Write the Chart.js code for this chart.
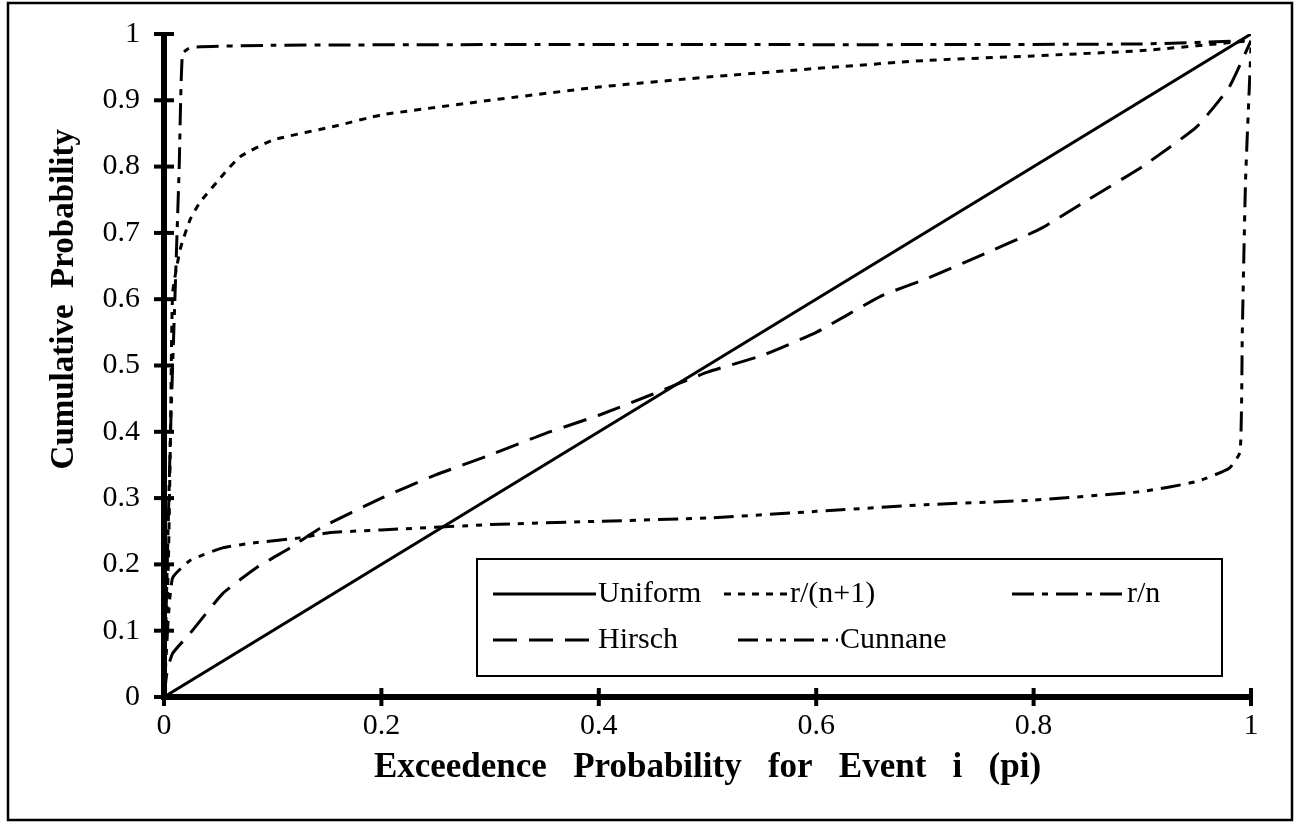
<!DOCTYPE html>
<html>
<head>
<meta charset="utf-8">
<script src="https://cdn.jsdelivr.net/npm/chart.js"></script>
<style>
  html, body { margin: 0; padding: 0; background: #fff; }
  #wrap { width: 1300px; height: 827px; position: relative; }
</style>
</head>
<body>
<div id="wrap"><canvas id="chart" width="1300" height="827"></canvas></div>
<script>
// axis ticks
const xTickValues = [0, 0.2, 0.4, 0.6, 0.8, 1];
const yTickValues = [0, 0.1, 0.2, 0.3, 0.4, 0.5, 0.6, 0.7, 0.8, 0.9, 1];

const seriesNames = ["Uniform", "r/(n+1)", "r/n", "Hirsch", "Cunnane"];

// Uniform
const uniformX = [0, 1];
const uniformY = [0, 1];

// r/(n+1)
const weibullX = [0, 0.004, 0.006, 0.008, 0.015, 0.024, 0.033, 0.054, 0.07, 0.1, 0.16, 0.2, 0.3, 0.4, 0.5, 0.6, 0.7, 0.8, 0.9, 1];
const weibullY = [0, 0.2, 0.4, 0.61, 0.676, 0.72, 0.746, 0.787, 0.815, 0.84, 0.862, 0.878, 0.9, 0.92, 0.935, 0.948, 0.96, 0.967, 0.975, 0.99];

// r/n
const rnX = [0, 0.003, 0.006, 0.01, 0.014, 0.017, 0.025, 0.1, 0.3, 0.5, 0.7, 0.9, 1];
const rnY = [0, 0.2, 0.4, 0.6, 0.8, 0.97, 0.98, 0.983, 0.984, 0.984, 0.984, 0.985, 0.99];

// Hirsch
const hirschX = [0, 0.003, 0.008, 0.024, 0.054, 0.085, 0.116, 0.144, 0.2, 0.25, 0.3, 0.35, 0.4, 0.45, 0.5, 0.55, 0.6, 0.66, 0.7, 0.75, 0.806, 0.85, 0.9, 0.95, 0.98, 1];
const hirschY = [0, 0.04, 0.066, 0.096, 0.156, 0.195, 0.225, 0.255, 0.3, 0.335, 0.365, 0.397, 0.425, 0.457, 0.49, 0.515, 0.55, 0.605, 0.63, 0.665, 0.706, 0.75, 0.8, 0.86, 0.92, 0.99];

// Cunnane
const cunnaneX = [0, 0.004, 0.008, 0.024, 0.054, 0.085, 0.125, 0.153, 0.2, 0.3, 0.4, 0.5, 0.6, 0.7, 0.8, 0.9, 0.95, 0.98, 0.99, 0.992, 0.995, 1];
const cunnaneY = [0, 0.12, 0.18, 0.206, 0.225, 0.233, 0.24, 0.248, 0.252, 0.26, 0.265, 0.27, 0.28, 0.29, 0.297, 0.31, 0.325, 0.345, 0.37, 0.55, 0.78, 0.98];

const dashes = [[], [7, 7], [22, 8, 6, 8], [24, 12], [20, 8, 6, 8, 6, 8]];

const toPoints = (xs, ys) => xs.map((x, i) => ({ x: x, y: ys[i] }));
const seriesData = [
    toPoints(uniformX, uniformY),
    toPoints(weibullX, weibullY),
    toPoints(rnX, rnY),
    toPoints(hirschX, hirschY),
    toPoints(cunnaneX, cunnaneY)
];

const SERIF = "'Liberation Serif', 'Times New Roman', serif";

// frame round the whole picture
const framePlugin = {
    id: "frame",
    beforeDraw(chart) {
        const ctx = chart.ctx;
        ctx.save();
        ctx.fillStyle = "#fff";
        ctx.fillRect(0, 0, chart.width, chart.height);
        ctx.strokeStyle = "#000";
        ctx.lineWidth = 2.5;
        ctx.strokeRect(8, 3, chart.width - 16, chart.height - 10);
        ctx.restore();
    }
};

// thick axes with ticks crossing them, plus the y title
const axesPlugin = {
    id: "axes",
    afterDatasetsDraw(chart) {
        const { ctx, scales: { x, y } } = chart;
        ctx.save();
        ctx.strokeStyle = "#000";
        ctx.lineWidth = 4;
        y.ticks.forEach(t => {
            const py = y.getPixelForValue(t.value);
            ctx.beginPath();
            ctx.moveTo(x.left - 10, py);
            ctx.lineTo(x.left + 10, py);
            ctx.stroke();
        });
        x.ticks.forEach(t => {
            const px = x.getPixelForValue(t.value);
            ctx.beginPath();
            ctx.moveTo(px, y.bottom - 9);
            ctx.lineTo(px, y.bottom + 9);
            ctx.stroke();
        });
        ctx.lineWidth = 6;
        ctx.beginPath();
        ctx.moveTo(x.left, y.top - 2);
        ctx.lineTo(x.left, y.bottom);
        ctx.lineTo(x.right + 2, y.bottom);
        ctx.stroke();

        // y title, set a bit above the middle of the axis
        ctx.fillStyle = "#000";
        ctx.textAlign = "center";
        ctx.textBaseline = "middle";
        ctx.font = "bold 33px " + SERIF;
        ctx.translate(64, y.top + (y.bottom - y.top) * 0.4);
        ctx.rotate(-Math.PI / 2);
        ctx.fillText("Cumulative  Probability", 0, 0);
        ctx.restore();
    }
};

// legend box inside the plot
const legendPlugin = {
    id: "boxLegend",
    afterDraw(chart) {
        const { ctx } = chart;
        const box = { left: 477, top: 559, right: 1222, bottom: 676 };
        const items = [
            { i: 0, x0: 493, x1: 596, row: 594 },
            { i: 1, x0: 724, x1: 788, row: 594 },
            { i: 2, x0: 1012, x1: 1125, row: 594 },
            { i: 3, x0: 493, x1: 596, row: 640 },
            { i: 4, x0: 738, x1: 838, row: 640 }
        ];
        ctx.save();
        ctx.fillStyle = "#fff";
        ctx.fillRect(box.left, box.top, box.right - box.left, box.bottom - box.top);
        ctx.strokeStyle = "#000";
        ctx.lineWidth = 2;
        ctx.strokeRect(box.left, box.top, box.right - box.left, box.bottom - box.top);
        ctx.font = "30px " + SERIF;
        ctx.textBaseline = "middle";
        ctx.fillStyle = "#000";
        items.forEach(it => {
            const ds = chart.data.datasets[it.i];
            ctx.setLineDash(ds.borderDash);
            ctx.lineWidth = 3;
            ctx.beginPath();
            ctx.moveTo(it.x0, it.row);
            ctx.lineTo(it.x1, it.row);
            ctx.stroke();
            ctx.setLineDash([]);
            ctx.fillText(ds.label, it.x1 + 2, it.row);
        });
        ctx.restore();
    }
};

new Chart(document.getElementById("chart"), {
    type: "line",
    data: {
        datasets: seriesNames.map((name, i) => ({
            label: name,
            data: seriesData[i],
            borderColor: "#000",
            borderWidth: 3,
            borderDash: dashes[i],
            pointRadius: 0,
            tension: 0.15,
            fill: false
        }))
    },
    options: {
        responsive: false,
        animation: false,
        layout: { padding: { left: 10, top: 31, right: 49, bottom: 10 } },
        plugins: {
            legend: { display: false },
            tooltip: { enabled: false }
        },
        scales: {
            x: {
                type: "linear",
                min: 0,
                max: 1,
                afterBuildTicks: s => { s.ticks = xTickValues.map(v => ({ value: v })); },
                afterFit: s => { s.height = 120; },
                grid: { display: false },
                border: { display: false },
                ticks: {
                    color: "#000",
                    padding: 3,
                    autoSkip: false,
                    maxRotation: 0,
                    font: { family: SERIF, size: 30 },
                    callback: v => String(+v.toFixed(1))
                },
                title: {
                    display: true,
                    text: "Exceedence   Probability   for   Event   i   (pi)",
                    color: "#000",
                    font: { family: SERIF, size: 35, weight: "bold" },
                    padding: { top: 0, bottom: 28 }
                }
            },
            y: {
                type: "linear",
                min: 0,
                max: 1,
                afterBuildTicks: s => { s.ticks = yTickValues.map(v => ({ value: v })); },
                afterFit: s => { s.width = 154; },
                grid: { display: false },
                border: { display: false },
                ticks: {
                    color: "#000",
                    padding: 16,
                    autoSkip: false,
                    font: { family: SERIF, size: 30 },
                    callback: v => String(+v.toFixed(1))
                }
            }
        }
    },
    plugins: [framePlugin, axesPlugin, legendPlugin]
});
</script>
</body>
</html>
